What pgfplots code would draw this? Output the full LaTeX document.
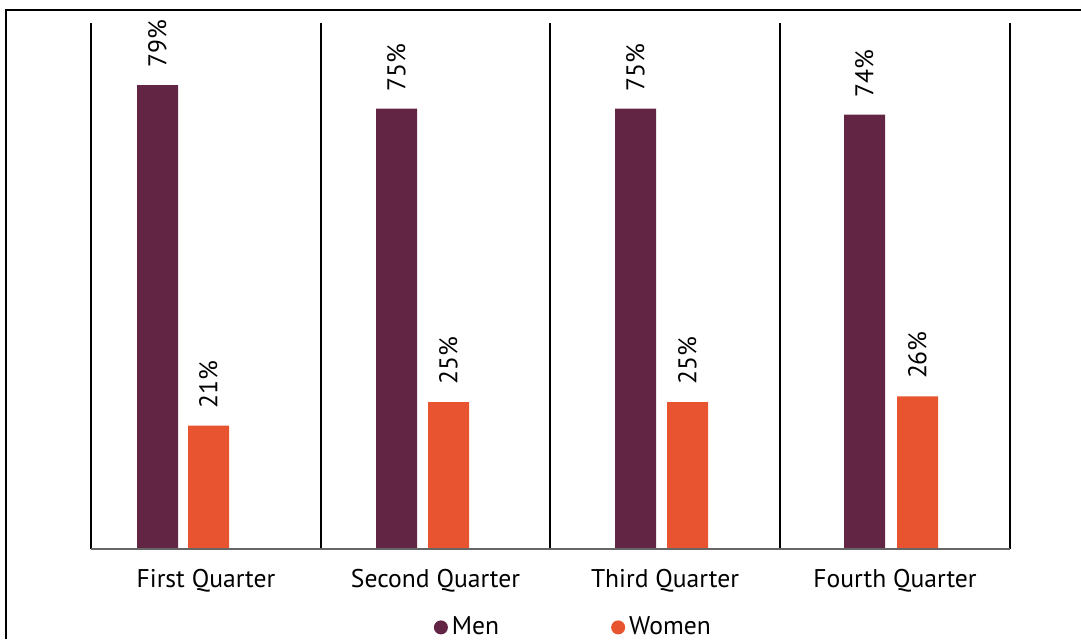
\documentclass[border=0pt]{standalone}
\usepackage{pgfplots}
\pgfplotsset{compat=1.18}
\usepackage{fontspec}
\setmainfont{PT Sans}
\definecolor{menc}{HTML}{632544}
\definecolor{womenc}{HTML}{E95430}
\begin{document}
\begin{tikzpicture}
\useasboundingbox (0,0) rectangle (540.5pt,319.5pt);
% outer frame (top and left edges)
\draw[line width=1pt] (3pt,0pt) -- (3pt,314.5pt) -- (540.5pt,314.5pt);
\begin{axis}[
  at={(45.5pt,45pt)}, anchor=south west,
  width=459.5pt, height=263pt, scale only axis,
  xmin=91, xmax=1010, ymin=0, ymax=89.6,
  axis line style={draw=none},
  /pgf/number format/assume math mode=true,
  xtick={206,435.5,665,895},
  xticklabels={First Quarter, Second Quarter, Third Quarter, Fourth Quarter},
  ytick=\empty,
  major tick length=0pt,
  tick label style={font=\fontsize{12.8}{15}\selectfont, text=black},
  xticklabel style={yshift=-6.5pt},
  ybar, bar width=41, bar shift=0pt,
  nodes near coords={\pgfmathprintnumber{\pgfplotspointmeta}\%},
  nodes near coords style={rotate=90, anchor=west, inner xsep=8.5pt, font=\fontsize{12.8}{15}\selectfont, text=black},
  legend style={at={(0.3727,-0.149)}, anchor=west, draw=none, fill=none,
    inner xsep=0pt, legend columns=2, font=\fontsize{12.8}{15}\selectfont,
    /tikz/every even column/.append style={column sep=54pt}},
  clip=false,
]
\addplot[fill=menc, draw=none,
  legend image code/.code={\fill[menc] (0pt,0pt) circle (3.5pt);}]
  coordinates {(157.5,79) (396.5,75) (635.5,75) (864.5,74)};
\addlegendentry{Men}
\addplot[fill=womenc, draw=none,
  legend image code/.code={\fill[womenc] (0pt,0pt) circle (3.5pt);}]
  coordinates {(208.5,21) (448.5,25) (687.5,25) (917.5,26)};
\addlegendentry{Women}
% frame lines and quarter separators
\draw[line width=0.65pt] (axis cs:91,0) -- (axis cs:91,89.6);
\draw[line width=0.65pt] (axis cs:1010,0) -- (axis cs:1010,89.6);
\draw[line width=0.65pt] (axis cs:321,0) -- (axis cs:321,89.6);
\draw[line width=0.65pt] (axis cs:550,0) -- (axis cs:550,89.6);
\draw[line width=0.65pt] (axis cs:780,0) -- (axis cs:780,89.6);
\draw[line width=0.9pt, gray!80!black] (axis cs:91,0) -- (axis cs:1010,0);
\end{axis}
\end{tikzpicture}
\end{document}
